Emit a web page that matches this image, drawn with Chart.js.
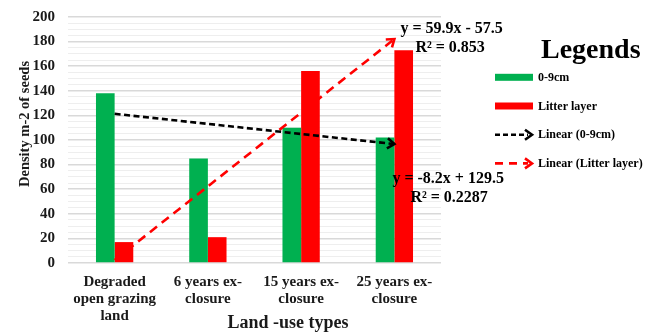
<!DOCTYPE html>
<html>
<head>
<meta charset="utf-8">
<script src="https://cdn.jsdelivr.net/npm/chart.js@4/dist/chart.umd.min.js"></script>
<style>
  html, body { margin: 0; padding: 0; background: #ffffff; }
  #wrap { width: 646px; height: 332px; position: relative; }
</style>
</head>
<body>
<div id="wrap"><canvas id="seedChart" width="646" height="332"></canvas></div>
<script>
// Land-use categories (multi-line tick labels)
const landUseTypes = [
  ["Degraded", "open grazing", "land"],
  ["6 years ex-", "closure"],
  ["15 years ex-", "closure"],
  ["25 years ex-", "closure"]
];

// Seed density (seeds per m²) by soil layer
const soil0to9cm = [138, 85, 110, 102];
const litterLayer = [17, 21, 156, 173];

// Linear trendlines (x = 1..4 over the land-use categories)
const trend0to9cm = { slope: -8.2, intercept: 129.5, r2: "0.2287" };
const trendLitter = { slope: 59.9, intercept: -57.5, r2: "0.853" };

// Y axis range and labelled tick spacing
const yMin = 0;
const yMax = 200;
const yLabelStep = 20;
const yMinorStep = 5;

const legendEntries = [
  { text: "0-9cm", kind: "bar", color: "#00b050" },
  { text: "Litter layer", kind: "bar", color: "#ff0000" },
  { text: "Linear (0-9cm)", kind: "line", color: "#000000", dash: [5, 3] },
  { text: "Linear (Litter layer)", kind: "line", color: "#ff0000", dash: [8, 6] }
];

const SERIF = "'Liberation Serif', 'Times New Roman', serif";
const TEXT = "#1a1a1a";

function trendValues(t) {
  return landUseTypes.map((_, i) => t.slope * (i + 1) + t.intercept);
}

function equationText(t) {
  const sign = t.intercept < 0 ? " - " : " + ";
  return "y = " + t.slope.toFixed(1) + "x" + sign + Math.abs(t.intercept).toFixed(1);
}

function drawChevron(ctx, x, y, angle, color) {
  ctx.save();
  ctx.translate(x, y);
  ctx.rotate(angle);
  ctx.strokeStyle = color;
  ctx.lineWidth = 2.6;
  ctx.setLineDash([]);
  ctx.lineJoin = "miter";
  ctx.beginPath();
  ctx.moveTo(-7, -5);
  ctx.lineTo(0, 0);
  ctx.lineTo(-7, 5);
  ctx.stroke();
  ctx.restore();
}

// Arrowheads at the end of each trendline
const trendArrows = {
  id: "trendArrows",
  afterDatasetsDraw(chart) {
    const ctx = chart.ctx;
    chart.data.datasets.forEach((ds, i) => {
      if (ds.type !== "line") return;
      const pts = chart.getDatasetMeta(i).data;
      const a = pts[pts.length - 2], b = pts[pts.length - 1];
      drawChevron(ctx, b.x, b.y, Math.atan2(b.y - a.y, b.x - a.x), ds.borderColor);
    });
  }
};

// Trendline equations, axis titles and the legend panel
const annotations = {
  id: "annotations",
  afterDraw(chart) {
    const ctx = chart.ctx;
    const area = chart.chartArea;
    ctx.save();
    ctx.fillStyle = TEXT;
    ctx.textBaseline = "middle";

    // equations next to the trendline ends
    const litterEnd = chart.getDatasetMeta(1).data[3];
    const soilEnd = chart.getDatasetMeta(0).data[3];
    ctx.font = "bold 16px " + SERIF;
    ctx.fillStyle = "#000";
    ctx.textAlign = "left";
    ctx.fillText(equationText(trendLitter), litterEnd.x + 6, litterEnd.y - 10);
    ctx.fillText("R\u00b2 = " + trendLitter.r2, litterEnd.x + 21, litterEnd.y + 9);
    ctx.fillText(equationText(trend0to9cm), soilEnd.x - 2, soilEnd.y + 35);
    ctx.fillText("R\u00b2 = " + trend0to9cm.r2, soilEnd.x + 16, soilEnd.y + 54);

    // axis titles
    ctx.fillStyle = TEXT;
    ctx.font = "bold 18px " + SERIF;
    ctx.textAlign = "center";
    ctx.fillText("Land -use types", area.left + 220, 323);

    ctx.save();
    ctx.translate(25, 124);
    ctx.rotate(-Math.PI / 2);
    ctx.font = "bold 14.5px " + SERIF;
    ctx.fillText("Density m-2 of seeds", 0, 0);
    ctx.restore();

    // legend panel
    const lx = 495;
    ctx.fillStyle = "#000";
    ctx.font = "bold 28px " + SERIF;
    ctx.textAlign = "left";
    ctx.fillText("Legends", 541, 51);

    ctx.font = "bold 12px " + SERIF;
    legendEntries.forEach((e, i) => {
      const y = 77.3 + i * 28.7;
      if (e.kind === "bar") {
        ctx.fillStyle = e.color;
        ctx.fillRect(lx, y - 3.5, 38, 7);
      } else {
        ctx.strokeStyle = e.color;
        ctx.lineWidth = 2.6;
        ctx.setLineDash(e.dash);
        ctx.beginPath();
        ctx.moveTo(lx, y);
        ctx.lineTo(lx + 33, y);
        ctx.stroke();
        ctx.setLineDash([]);
        drawChevron(ctx, lx + 37, y, 0, e.color);
      }
      ctx.fillStyle = "#000";
      ctx.fillText(e.text, 538, y + 0.5);
    });
    ctx.restore();
  }
};

new Chart(document.getElementById("seedChart"), {
  data: {
    labels: landUseTypes,
    datasets: [
      {
        type: "line",
        label: "Linear (0-9cm)",
        data: trendValues(trend0to9cm),
        borderColor: "#000000",
        borderDash: [6, 3.5],
        borderWidth: 2.6,
        pointRadius: 0,
        fill: false,
        order: 1
      },
      {
        type: "line",
        label: "Linear (Litter layer)",
        data: trendValues(trendLitter),
        borderColor: "#ff0000",
        borderDash: [9, 6],
        borderWidth: 2.6,
        pointRadius: 0,
        fill: false,
        order: 1
      },
      {
        type: "bar",
        label: "0-9cm",
        data: soil0to9cm,
        backgroundColor: "#00b050",
        categoryPercentage: 0.4,
        barPercentage: 1.0,
        order: 2
      },
      {
        type: "bar",
        label: "Litter layer",
        data: litterLayer,
        backgroundColor: "#ff0000",
        categoryPercentage: 0.4,
        barPercentage: 1.0,
        order: 2
      }
    ]
  },
  options: {
    responsive: false,
    animation: false,
    devicePixelRatio: 1,
    layout: { padding: { top: 17, right: 205, bottom: 0, left: 0 } },
    plugins: {
      legend: { display: false },
      tooltip: { enabled: false }
    },
    scales: {
      x: {
        grid: { display: false, drawTicks: false },
        border: { display: false },
        ticks: {
          color: TEXT,
          font: { family: SERIF, size: 15, weight: "bold", lineHeight: 1.15 },
          maxRotation: 0,
          autoSkip: false,
          padding: 10
        },
        afterFit(scale) { scale.height = 69; }
      },
      y: {
        min: yMin,
        max: yMax,
        grid: {
          drawTicks: false,
          color: (c) => (c.tick && c.tick.value % yLabelStep === 0 ? "#d9d9d9" : "#eeeeee"),
          lineWidth: (c) => (c.tick && c.tick.value % yLabelStep === 0 ? 1.6 : 1)
        },
        border: { display: false },
        ticks: {
          stepSize: yMinorStep,
          autoSkip: false,
          color: TEXT,
          font: { family: SERIF, size: 15, weight: "bold" },
          padding: 13,
          callback: (v) => (v % yLabelStep === 0 ? String(v) : "")
        },
        afterFit(scale) {
          scale.width = 68;
          scale.paddingTop = 0;
          scale.paddingBottom = 0;
        }
      }
    }
  },
  plugins: [trendArrows, annotations]
});
</script>
</body>
</html>
